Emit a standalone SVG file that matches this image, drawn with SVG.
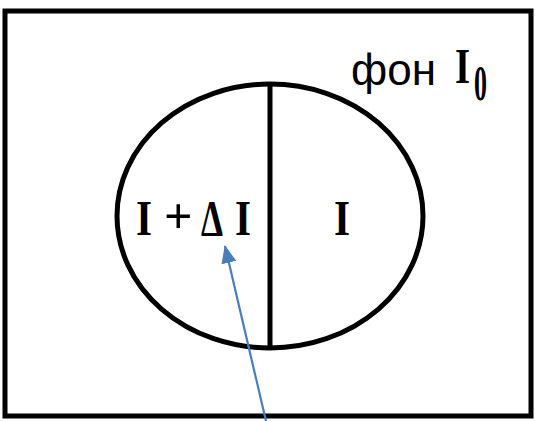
<svg xmlns="http://www.w3.org/2000/svg" width="535" height="421" viewBox="0 0 535 421">
<style>
.ink{fill:none;stroke:#000;stroke-width:5}
.lbl{font-family:"Liberation Serif",serif;font-size:50px;font-weight:bold;fill:#000}
.sans{font-family:"Liberation Sans",Arial,sans-serif;font-size:44px;fill:#000}
</style>
<defs>
<marker id="ah" markerWidth="18" markerHeight="15" refX="17" refY="7.5" orient="auto" markerUnits="userSpaceOnUse" viewBox="0 0 18 15">
<path d="M0,0 L18,7.5 L0,15 Z" fill="#4a7ebb"/>
</marker>
</defs>
<rect width="535" height="421" fill="#fff"/>
<g id="frame"><rect class="ink" x="5" y="11" width="526" height="405" stroke-width="6"/></g>
<g id="background-label"><text class="sans" x="351" y="85">фон</text><text class="lbl" x="455" y="83" font-size="44" textLength="15" lengthAdjust="spacingAndGlyphs">I</text><text class="lbl" x="474" y="100" font-size="26" textLength="13" lengthAdjust="spacingAndGlyphs">0</text></g>
<g id="disk">
<ellipse class="ink" cx="270" cy="216" rx="153" ry="132"/>
<line class="ink" x1="270" y1="85" x2="270" y2="348"/>
</g>
<g id="left-half"><text class="lbl" x="136" y="235" textLength="16" lengthAdjust="spacingAndGlyphs">I</text><text class="lbl" x="164" y="233" font-size="40">+</text><text class="lbl" x="201" y="235" textLength="22" lengthAdjust="spacingAndGlyphs">Δ</text><text class="lbl" x="235" y="235" textLength="16" lengthAdjust="spacingAndGlyphs">I</text></g>
<g id="right-half"><text class="lbl" x="334" y="235" textLength="16" lengthAdjust="spacingAndGlyphs">I</text></g>
<g id="connectors">
<line x1="266" y1="421" x2="225" y2="246" stroke="#4a7ebb" stroke-width="2.2" marker-end="url(#ah)"/>
</g>
</svg>
